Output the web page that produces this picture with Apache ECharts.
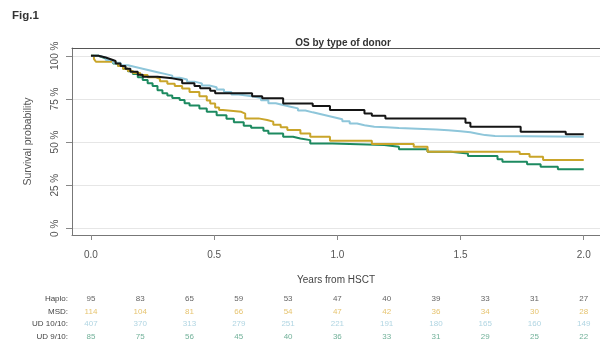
<!DOCTYPE html>
<html>
<head>
<meta charset="utf-8">
<script src="https://cdn.jsdelivr.net/npm/echarts@6/dist/echarts.min.js"></script>
<style>
  html, body { margin: 0; padding: 0; background: #ffffff; }
  #chart { width: 600px; height: 343px; }
</style>
</head>
<body>
<div id="chart"></div>
<script>
// Kaplan-Meier overall survival by donor type: [years, survival] step points
const haploCurve = [
  [0, 1.0], [0.03, 0.99], [0.06, 0.98], [0.08, 0.97], [0.10, 0.955], [0.12, 0.94],
  [0.14, 0.925], [0.16, 0.907], [0.19, 0.89], [0.21, 0.878], [0.27, 0.869],
  [0.33, 0.859], [0.37, 0.84], [0.42, 0.825], [0.443, 0.811], [0.484, 0.797],
  [0.504, 0.782], [0.654, 0.766], [0.695, 0.753], [0.78, 0.724], [0.90, 0.709],
  [0.97, 0.685], [1.11, 0.666], [1.14, 0.652], [1.195, 0.636], [1.52, 0.612],
  [1.54, 0.589], [1.744, 0.56], [1.927, 0.545], [2.0, 0.545]
];
const msdCurve = [
  [0, 1.0], [0.012, 0.982], [0.02, 0.965], [0.09, 0.955], [0.11, 0.94], [0.13, 0.925],
  [0.15, 0.912], [0.17, 0.90], [0.20, 0.888], [0.23, 0.876], [0.26, 0.866],
  [0.28, 0.852], [0.31, 0.838], [0.34, 0.824], [0.37, 0.81], [0.40, 0.79],
  [0.44, 0.765], [0.47, 0.74], [0.484, 0.724], [0.504, 0.70], [0.52, 0.685],
  [0.535, 0.675], [0.61, 0.665], [0.626, 0.637], [0.68, 0.628], [0.715, 0.618],
  [0.74, 0.60], [0.77, 0.585], [0.797, 0.57], [0.85, 0.55], [0.89, 0.531],
  [0.97, 0.508], [1.14, 0.488], [1.31, 0.473], [1.366, 0.444], [1.74, 0.43],
  [1.78, 0.415], [1.835, 0.396], [2.0, 0.396]
];
const ud10Curve = [
  [0, 1.0], [0.03, 0.99], [0.06, 0.975], [0.09, 0.96], [0.12, 0.945], [0.15, 0.935],
  [0.18, 0.925], [0.21, 0.915], [0.24, 0.905], [0.27, 0.895], [0.30, 0.885],
  [0.33, 0.872], [0.36, 0.862], [0.39, 0.85], [0.42, 0.84], [0.45, 0.828],
  [0.48, 0.818], [0.51, 0.805], [0.54, 0.79], [0.57, 0.776], [0.60, 0.77],
  [0.63, 0.764], [0.66, 0.755], [0.69, 0.742], [0.72, 0.725], [0.75, 0.715],
  [0.78, 0.705], [0.81, 0.695], [0.84, 0.683], [0.87, 0.672], [0.90, 0.662],
  [0.93, 0.652], [0.96, 0.642], [0.99, 0.632], [1.02, 0.62], [1.05, 0.607],
  [1.08, 0.597], [1.11, 0.589], [1.15, 0.585], [1.20, 0.581], [1.25, 0.578],
  [1.30, 0.575], [1.35, 0.572], [1.40, 0.568], [1.45, 0.562], [1.50, 0.556],
  [1.54, 0.548], [1.57, 0.54], [1.60, 0.535], [1.64, 0.531], [2.0, 0.531]
];
const ud9Curve = [
  [0, 1.0], [0.03, 0.99], [0.05, 0.98], [0.07, 0.97], [0.09, 0.955], [0.11, 0.94],
  [0.13, 0.925], [0.15, 0.91], [0.17, 0.895], [0.19, 0.875], [0.21, 0.86],
  [0.23, 0.84], [0.25, 0.825], [0.27, 0.80], [0.29, 0.782], [0.31, 0.77],
  [0.33, 0.755], [0.36, 0.743], [0.38, 0.725], [0.40, 0.712], [0.44, 0.695],
  [0.47, 0.675], [0.51, 0.655], [0.55, 0.635], [0.58, 0.615], [0.62, 0.595],
  [0.65, 0.582], [0.70, 0.565], [0.72, 0.55], [0.78, 0.531], [0.82, 0.52],
  [0.85, 0.511], [0.89, 0.492], [0.98, 0.483], [1.19, 0.473], [1.25, 0.458],
  [1.366, 0.444], [1.46, 0.434], [1.53, 0.419], [1.65, 0.40], [1.67, 0.386],
  [1.77, 0.371], [1.825, 0.357], [1.895, 0.342], [2.0, 0.342]
];

// Number-at-risk table
const riskTimes = [0, 0.2, 0.4, 0.6, 0.8, 1.0, 1.2, 1.4, 1.6, 1.8, 2.0];
const riskRows = ['Haplo:', 'MSD:', 'UD 10/10:', 'UD 9/10:'];
const riskHaplo = [95, 83, 65, 59, 53, 47, 40, 39, 33, 31, 27];
const riskMSD = [114, 104, 81, 66, 54, 47, 42, 36, 34, 30, 28];
const riskUD10 = [407, 370, 313, 279, 251, 221, 191, 180, 165, 160, 149];
const riskUD9 = [85, 75, 56, 45, 40, 36, 33, 31, 29, 25, 22];

// Axis ticks
const xTicks = [0, 0.5, 1.0, 1.5, 2.0];
const yTicks = [0, 0.25, 0.5, 0.75, 1.0];

const groupColors = ['#151515', '#c9a52a', '#8ec6da', '#1d8a60'];
const riskColors = ['#3a3a3a', '#e0b44a', '#9ccbdb', '#4c9c7e'];

const X_MIN = -0.077, X_MAX = 2.066;
const Y_MIN = -0.039, Y_MAX = 1.045;
const FONT = 'Liberation Sans, Arial, sans-serif';

const chart = echarts.init(document.getElementById('chart'), null, { renderer: 'canvas' });

function kmSeries(name, data, color) {
  return {
    name: name, type: 'line', step: 'end', data: data,
    xAxisIndex: 0, yAxisIndex: 0,
    showSymbol: false, symbol: 'none',
    lineStyle: { color: color, width: 2 },
    itemStyle: { color: color },
    animation: false, z: 3
  };
}

function riskSeries(counts, rowIndex, color) {
  return {
    type: 'scatter', xAxisIndex: 2, yAxisIndex: 1,
    symbolSize: 0, silent: true, animation: false,
    data: riskTimes.map((t, i) => [t, rowIndex, counts[i]]),
    label: {
      show: true, position: 'inside',
      formatter: p => String(p.value[2]),
      color: color, fontSize: 8, fontFamily: FONT
    }
  };
}

chart.setOption({
  backgroundColor: '#ffffff',
  animation: false,
  title: [
    {
      text: 'Fig.1', left: 7, top: 5,
      textStyle: { fontSize: 11.5, fontWeight: 'bold', color: '#333', fontFamily: FONT }
    },
    {
      text: 'OS by type of donor', left: 338, top: 33, textAlign: 'center',
      textStyle: { fontSize: 10, fontWeight: 'bold', color: '#333', fontFamily: FONT }
    }
  ],
  grid: [
    { left: 72, right: 0, top: 48, bottom: 108 },
    { left: 72, right: 0, top: 292.4, height: 52.8 }
  ],
  xAxis: [
    {
      type: 'value', gridIndex: 0, position: 'bottom',
      min: X_MIN, max: X_MAX,
      name: 'Years from HSCT', nameLocation: 'middle', nameGap: 40,
      nameTextStyle: { fontSize: 10, color: '#444', fontFamily: FONT },
      axisLine: { show: true, onZero: false, lineStyle: { color: '#777', width: 1 } },
      axisTick: { show: true, length: 5, customValues: xTicks, lineStyle: { color: '#888' } },
      axisLabel: {
        customValues: xTicks, margin: 15,
        formatter: v => v.toFixed(1),
        fontSize: 10, color: '#555', fontFamily: FONT
      },
      splitLine: { show: false }
    },
    {
      type: 'value', gridIndex: 0, position: 'top',
      min: X_MIN, max: X_MAX,
      axisLine: { show: true, onZero: false, lineStyle: { color: '#555', width: 1 } },
      axisTick: { show: false }, axisLabel: { show: false }, splitLine: { show: false }
    },
    {
      type: 'value', gridIndex: 1, min: X_MIN, max: X_MAX, show: false
    }
  ],
  yAxis: [
    {
      type: 'value', gridIndex: 0, min: Y_MIN, max: Y_MAX,
      name: 'Survival probability', nameLocation: 'middle', nameGap: 38,
      nameTextStyle: { fontSize: 10.5, color: '#555', fontFamily: FONT },
      axisLine: { show: true, onZero: false, lineStyle: { color: '#777', width: 1 } },
      axisTick: { show: true, length: 6, customValues: yTicks, lineStyle: { color: '#888' } },
      axisLabel: {
        customValues: yTicks, rotate: 90, margin: 12,
        formatter: v => Math.round(v * 100) + ' %',
        fontSize: 10, color: '#555', fontFamily: FONT
      },
      splitLine: { show: true, lineStyle: { color: '#e6e6e6', width: 1 } }
    },
    {
      type: 'category', gridIndex: 1, data: riskRows, inverse: true,
      axisLine: { show: false }, axisTick: { show: false },
      axisLabel: { margin: 4, fontSize: 8, color: '#444', fontFamily: FONT },
      splitLine: { show: false }
    }
  ],
  series: [
    kmSeries('UD 9/10', ud9Curve, groupColors[3]),
    kmSeries('MSD', msdCurve, groupColors[1]),
    kmSeries('UD 10/10', ud10Curve, groupColors[2]),
    kmSeries('Haplo', haploCurve, groupColors[0]),
    riskSeries(riskHaplo, 0, riskColors[0]),
    riskSeries(riskMSD, 1, riskColors[1]),
    riskSeries(riskUD10, 2, riskColors[2]),
    riskSeries(riskUD9, 3, riskColors[3])
  ]
});
</script>
</body>
</html>
